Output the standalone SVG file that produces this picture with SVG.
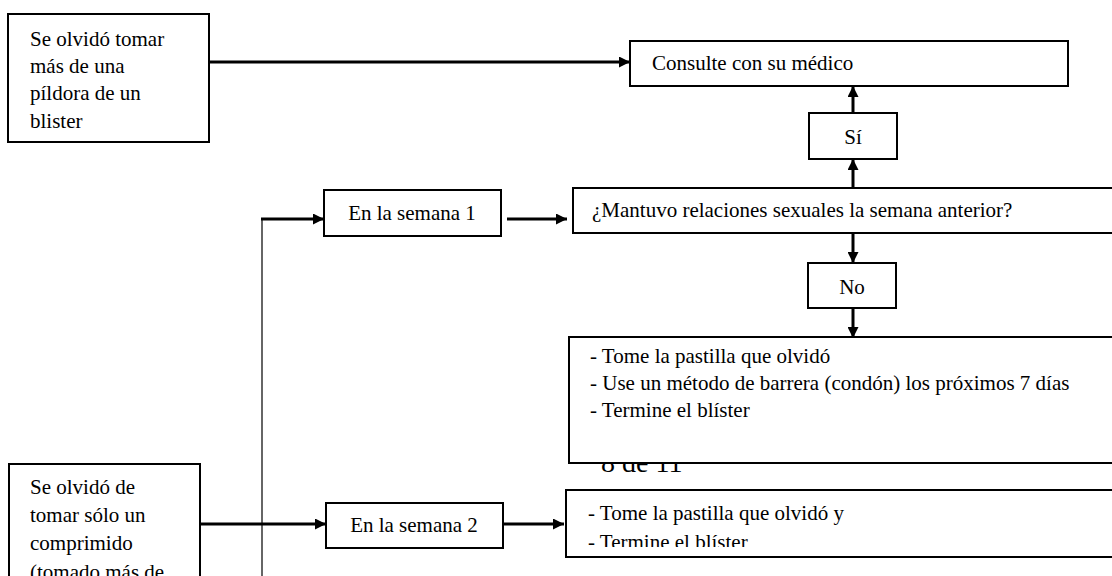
<svg xmlns="http://www.w3.org/2000/svg" width="1112" height="576" viewBox="0 0 1112 576">
<defs>
<style>
.box{fill:#fff;stroke:#000;stroke-width:2}
.t{font-family:"Liberation Serif","Times New Roman",serif;font-size:21px;fill:#000}
.c{text-anchor:middle}
.ln{fill:none;stroke:#000;stroke-width:3}
.thin{fill:none;stroke:#333;stroke-width:1.5}
.foot{font-family:"Liberation Serif","Times New Roman",serif;font-size:28px;fill:#000}
</style>
<marker id="ah" viewBox="0 0 10 10" refX="10" refY="5" markerWidth="11" markerHeight="11" orient="auto" markerUnits="userSpaceOnUse">
<path d="M0,0 L10,5 L0,10 z" fill="#000"/>
</marker>
<clipPath id="clipB"><rect x="566" y="490" width="560" height="57"/></clipPath>
</defs>
<rect width="1112" height="576" fill="#fff"/>

<text class="foot" x="601" y="472">8 de 11</text>

<g id="connectors">
<line class="ln" x1="209" y1="62" x2="630" y2="62" marker-end="url(#ah)"/>
<line class="ln" x1="853" y1="113" x2="853" y2="86" marker-end="url(#ah)"/>
<line class="ln" x1="853" y1="188" x2="853" y2="159" marker-end="url(#ah)"/>
<line class="ln" x1="853" y1="233" x2="853" y2="263" marker-end="url(#ah)"/>
<line class="ln" x1="853" y1="308" x2="853" y2="338" marker-end="url(#ah)"/>
<line class="ln" x1="507" y1="219" x2="567" y2="219" marker-end="url(#ah)"/>
<polyline class="thin" points="262,576 262,219"/>
<line class="ln" x1="261" y1="219" x2="324" y2="219" marker-end="url(#ah)"/>
<line class="ln" x1="200" y1="524" x2="326" y2="524" marker-end="url(#ah)"/>
<line class="ln" x1="503" y1="524" x2="564" y2="524" marker-end="url(#ah)"/>
</g>

<g id="box1">
<rect class="box" x="8" y="14" width="201" height="128"/>
<text class="t" x="30" y="46">Se olvidó tomar</text>
<text class="t" x="30" y="73">más de una</text>
<text class="t" x="30" y="100">píldora de un</text>
<text class="t" x="30" y="128">blister</text>
</g>

<g id="consulte">
<rect class="box" x="630" y="41" width="438" height="45"/>
<text class="t" x="652" y="70">Consulte con su médico</text>
</g>

<g id="si">
<rect class="box" x="809" y="113" width="88" height="46"/>
<text class="t c" x="853" y="144">Sí</text>
</g>

<g id="pregunta">
<rect class="box" x="573" y="188" width="560" height="45"/>
<text class="t" x="592" y="217">¿Mantuvo relaciones sexuales la semana anterior?</text>
</g>

<g id="semana1">
<rect class="box" x="324" y="190" width="177" height="46"/>
<text class="t c" x="412" y="220">En la semana 1</text>
</g>

<g id="no">
<rect class="box" x="808" y="263" width="88" height="45"/>
<text class="t c" x="852" y="294">No</text>
</g>

<g id="accionA">
<rect class="box" x="569" y="337" width="560" height="126"/>
<text class="t" x="590" y="363">- Tome la pastilla que olvidó</text>
<text class="t" x="590" y="390">- Use un método de barrera (condón) los próximos 7 días</text>
<text class="t" x="590" y="417">- Termine el blíster</text>
</g>

<g id="box3">
<rect class="box" x="9" y="464" width="191" height="130"/>
<text class="t" x="30" y="494">Se olvidó de</text>
<text class="t" x="30" y="522">tomar sólo un</text>
<text class="t" x="30" y="550">comprimido</text>
<text class="t" x="30" y="579">(tomado más de</text>
</g>

<g id="semana2">
<rect class="box" x="326" y="503" width="177" height="45"/>
<text class="t c" x="414" y="532">En la semana 2</text>
</g>

<g id="accionB">
<rect class="box" x="566" y="490" width="560" height="67"/>
<g clip-path="url(#clipB)">
<text class="t" x="588" y="520">- Tome la pastilla que olvidó y</text>
<text class="t" x="588" y="549">- Termine el blíster</text>
</g>
</g>
</svg>
